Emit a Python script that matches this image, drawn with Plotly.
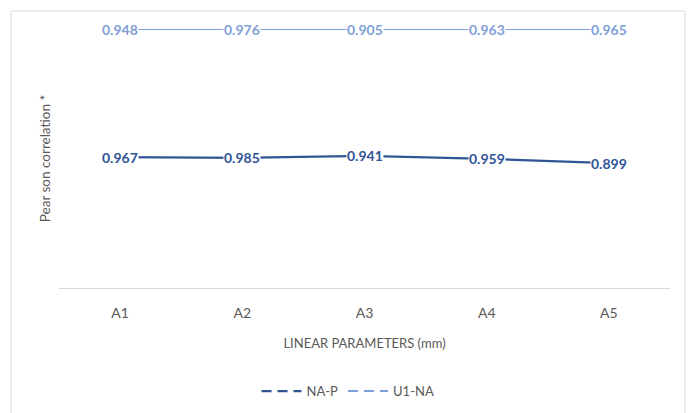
import plotly.graph_objects as go

categories = ["A1", "A2", "A3", "A4", "A5"]
na_p = [0.967, 0.985, 0.941, 0.959, 0.899]
u1_na = [0.948, 0.976, 0.905, 0.963, 0.965]

series_names = ["NA-P", "U1-NA"]
dark_blue = "#2F5597"
light_blue = "#7F9FD8"
grey = "#595959"
font_family = "Lato, 'Open Sans', sans-serif"

fig = go.Figure()

# 100% stacked line chart (Excel style)
fig.add_trace(go.Scatter(x=categories, y=na_p, name=series_names[0], mode="lines",
                         stackgroup="one", groupnorm="percent", fill="none",
                         line=dict(color=dark_blue, width=2.25), showlegend=False,
                         hoverinfo="skip"))
fig.add_trace(go.Scatter(x=categories, y=u1_na, name=series_names[1], mode="lines",
                         stackgroup="one", fill="none",
                         line=dict(color=light_blue, width=2), showlegend=False,
                         hoverinfo="skip"))

# legend entries (dashed symbols like the reference)
fig.add_trace(go.Scatter(x=[None], y=[None], name=series_names[0], mode="lines",
                         line=dict(color=dark_blue, width=2.25, dash="10px,6px")))
fig.add_trace(go.Scatter(x=[None], y=[None], name=series_names[1], mode="lines",
                         line=dict(color=light_blue, width=2, dash="10px,6px")))

# data labels centred on the points, white background hides the line
for c, a, b in zip(categories, na_p, u1_na):
    total = a + b
    fig.add_annotation(x=c, y=a / total * 100, text=f"{a:.3f}", showarrow=False,
                       bgcolor="white", borderpad=0,
                       font=dict(family=font_family, size=14, color=dark_blue, weight="bold"))
    fig.add_annotation(x=c, y=total / total * 100, text=f"{b:.3f}", showarrow=False,
                       bgcolor="white", borderpad=0,
                       font=dict(family=font_family, size=14, color=light_blue, weight="bold"))

# outer chart border
fig.add_shape(type="rect", xref="paper", yref="paper", x0=-0.0786, x1=1.0245,
              y0=-0.5, y1=1.07, line=dict(color="#D9D9D9", width=1), layer="below")

fig.update_layout(
    width=686, height=405,
    margin=dict(l=51, r=24, t=21, b=125, autoexpand=False),
    paper_bgcolor="white", plot_bgcolor="white",
    font=dict(family=font_family, color=grey),
    xaxis=dict(type="category", range=[-0.5, len(categories) - 0.5], automargin=False,
               showline=True, linecolor="#D9D9D9", linewidth=1, showgrid=False,
               ticks="", tickfont=dict(size=14, color=grey), ticklabelstandoff=12,
               title=dict(text="LINEAR PARAMETERS (mm)", font=dict(size=13, color=grey),
                          standoff=19)),
    yaxis=dict(range=[0, 100], showgrid=False, zeroline=False, showticklabels=False,
               showline=False, automargin=False,
               title=dict(text="Pear son correlation *", font=dict(size=13.5, color=grey),
                          standoff=4)),
    legend=dict(orientation="h", x=0.473, xanchor="center", y=-0.398, yanchor="middle",
                font=dict(size=13, color=grey), itemwidth=40, bgcolor="rgba(0,0,0,0)"),
    showlegend=True,
)

fig.write_html("out.html")
